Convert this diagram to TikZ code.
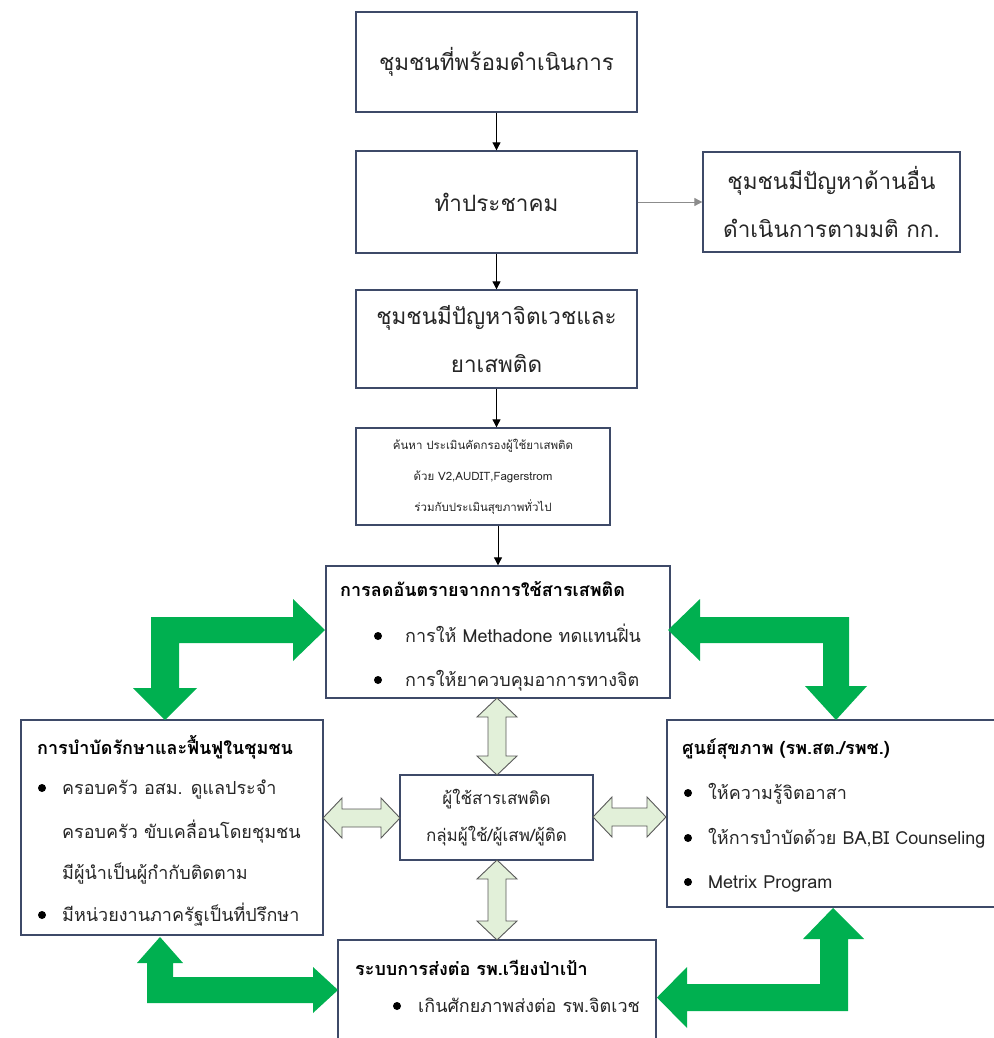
\documentclass[tikz,border=0pt]{standalone}
\usepackage{fontspec}
\newfontfamily\thai[Script=Thai]{Loma}
\usetikzlibrary{arrows.meta}
\definecolor{boxc}{HTML}{3E4A68}
\definecolor{grn}{HTML}{00B050}
\definecolor{lgrn}{HTML}{E2F0D9}
\definecolor{txtc}{HTML}{262626}
\begin{document}
\begin{tikzpicture}[x=1pt,y=-1pt,
 box/.style={draw=boxc,line width=1.3pt,fill=white,inner sep=0pt,align=center,text=txtc},
 big/.style={font=\thai\fontsize{22.5}{48}\selectfont},
 small/.style={font=\thai\fontsize{11.5}{31}\selectfont},
 mid/.style={font=\thai\fontsize{17}{37}\selectfont},
 ttl/.style={font=\thai\bfseries\fontsize{18}{20}\selectfont,text=black,inner sep=0pt,anchor=base west},
 body/.style={font=\thai\fontsize{18}{20}\selectfont,text=txtc,inner sep=0pt,anchor=base west},
 dot/.style={circle,fill=black,inner sep=0pt,minimum size=8pt},
 arr/.style={-{Triangle[length=8pt,width=8pt]},line width=0.8pt},
 ga/.style={fill=grn,draw=none},
 la/.style={fill=lgrn,draw=black!65,line width=0.9pt,line join=miter}]
\useasboundingbox (0,0) rectangle (993,1038);

% boxes
\node[box,big,minimum width=281pt,minimum height=100pt] (b1) at (496.5,62) {ชุมชนที่พร้อมดำเนินการ};
\node[box,big,minimum width=281pt,minimum height=102pt] (b2) at (496.5,202) {ทำประชาคม};
\node[box,big,minimum width=257pt,minimum height=100pt] (b3) at (831.5,202) {ชุมชนมีปัญหาด้านอื่น\\ดำเนินการตามมติ กก.};
\node[box,big,minimum width=281pt,minimum height=98pt] (b4) at (496.5,339) {ชุมชนมีปัญหาจิตเวชและ\\ยาเสพติด};
\node[box,small,minimum width=254pt,minimum height=97pt] (b5) at (483,476.5) {ค้นหา ประเมินคัดกรองผู้ใช้ยาเสพติด\\ด้วย V2,AUDIT,Fagerstrom\\ร่วมกับประเมินสุขภาพทั่วไป};
\node[box,minimum width=344pt,minimum height=132pt] (b6) at (498,632) {};
\node[box,minimum width=302pt,minimum height=215pt] (b7) at (172,827.5) {};
\node[box,minimum width=328pt,minimum height=187pt] (b8) at (831,813.5) {};
\node[box,mid,minimum width=193pt,minimum height=85pt] (b9) at (496.5,817.5) {ผู้ใช้สารเสพติด\\กลุ่มผู้ใช้/ผู้เสพ/ผู้ติด};
\node[box,minimum width=318pt,minimum height=105pt] (b10) at (497,992.5) {};

% box 6 text
\node[ttl] (t6) at (340,596) {การลดอันตรายจากการใช้สารเสพติด};
\node[dot] (d61) at (378,636) {};
\node[body] (t61) at (405,642) {การให้ Methadone ทดแทนฝิ่น};
\node[dot] (d62) at (378,680) {};
\node[body] (t62) at (405,686) {การให้ยาควบคุมอาการทางจิต};

% box 7 text
\node[ttl] (t7) at (37,754) {การบำบัดรักษาและฟื้นฟูในชุมชน};
\node[dot] (d71) at (42,788) {};
\node[body] (t71) at (62,794) {ครอบครัว อสม. ดูแลประจำ};
\node[body] (t72) at (62,838) {ครอบครัว ขับเคลื่อนโดยชุมชน};
\node[body] (t73) at (62,879) {มีผู้นำเป็นผู้กำกับติดตาม};
\node[dot] (d72) at (42,915) {};
\node[body] (t74) at (62,921) {มีหน่วยงานภาครัฐเป็นที่ปรึกษา};

% box 8 text
\node[ttl] (t8) at (682,754) {ศูนย์สุขภาพ (รพ.สต./รพช.)};
\node[dot] (d81) at (688,793) {};
\node[body] (t81) at (708,799) {ให้ความรู้จิตอาสา};
\node[dot] (d82) at (688,838) {};
\node[body] (t82) at (708,844) {ให้การบำบัดด้วย BA,BI Counseling};
\node[dot] (d83) at (688,882) {};
\node[body] (t83) at (708,888) {Metrix Program};

% box 10 text
\node[ttl] (t10) at (355,975) {ระบบการส่งต่อ รพ.เวียงป่าเป้า};
\node[dot] (d101) at (397,1006) {};
\node[body] (t101) at (418,1012) {เกินศักยภาพส่งต่อ รพ.จิตเวช};

% thin arrows
\draw[arr] (b1.south) -- (b2.north);
\draw[arr] (b2.south) -- (b4.north);
\draw[arr] (b4.south) -- (b4.south |- b5.north);
\draw[arr] (b5.south -| b6.north) -- (b6.north);
\draw[arr,draw=black!45] (b2.east) -- (b3.west);

% light double arrows
\draw[la] (323,818) -- (342,798) -- (342,809) -- (381,809) -- (381,798) -- (400,818) -- (381,838) -- (381,827) -- (342,827) -- (342,838) -- cycle;
\draw[la] (593,817) -- (612,797) -- (612,808) -- (647,808) -- (647,797) -- (666,817) -- (647,837) -- (647,826) -- (612,826) -- (612,837) -- cycle;
\draw[la] (497,698) -- (517,717) -- (506,717) -- (506,756) -- (517,756) -- (497,775) -- (477,756) -- (488,756) -- (488,717) -- (477,717) -- cycle;
\draw[la] (497,860) -- (517,879) -- (506,879) -- (506,921) -- (517,921) -- (497,940) -- (477,921) -- (488,921) -- (488,879) -- (477,879) -- cycle;

% green bent arrows
\fill[ga] (325,630) -- (293,599) -- (293,617) -- (151,617) -- (151,688) -- (133,688) -- (165,720) -- (197,688) -- (179,688) -- (179,643) -- (293,643) -- (293,661) -- cycle;
\fill[ga] (668,630) -- (700,599) -- (700,617) -- (849,617) -- (849,686) -- (867,686) -- (836,720) -- (805,686) -- (823,686) -- (823,643) -- (700,643) -- (700,661) -- cycle;
\fill[ga] (160,937) -- (183,963) -- (173,963) -- (173,977) -- (313,977) -- (313,967) -- (338,990) -- (313,1013) -- (313,1003) -- (147,1003) -- (147,963) -- (137,963) -- cycle;
\fill[ga] (833,908) -- (864,939) -- (848,939) -- (848,1011) -- (687,1011) -- (687,1028) -- (657,997.5) -- (687,967) -- (687,984) -- (820,984) -- (820,939) -- (803,939) -- cycle;
\end{tikzpicture}
\end{document}
